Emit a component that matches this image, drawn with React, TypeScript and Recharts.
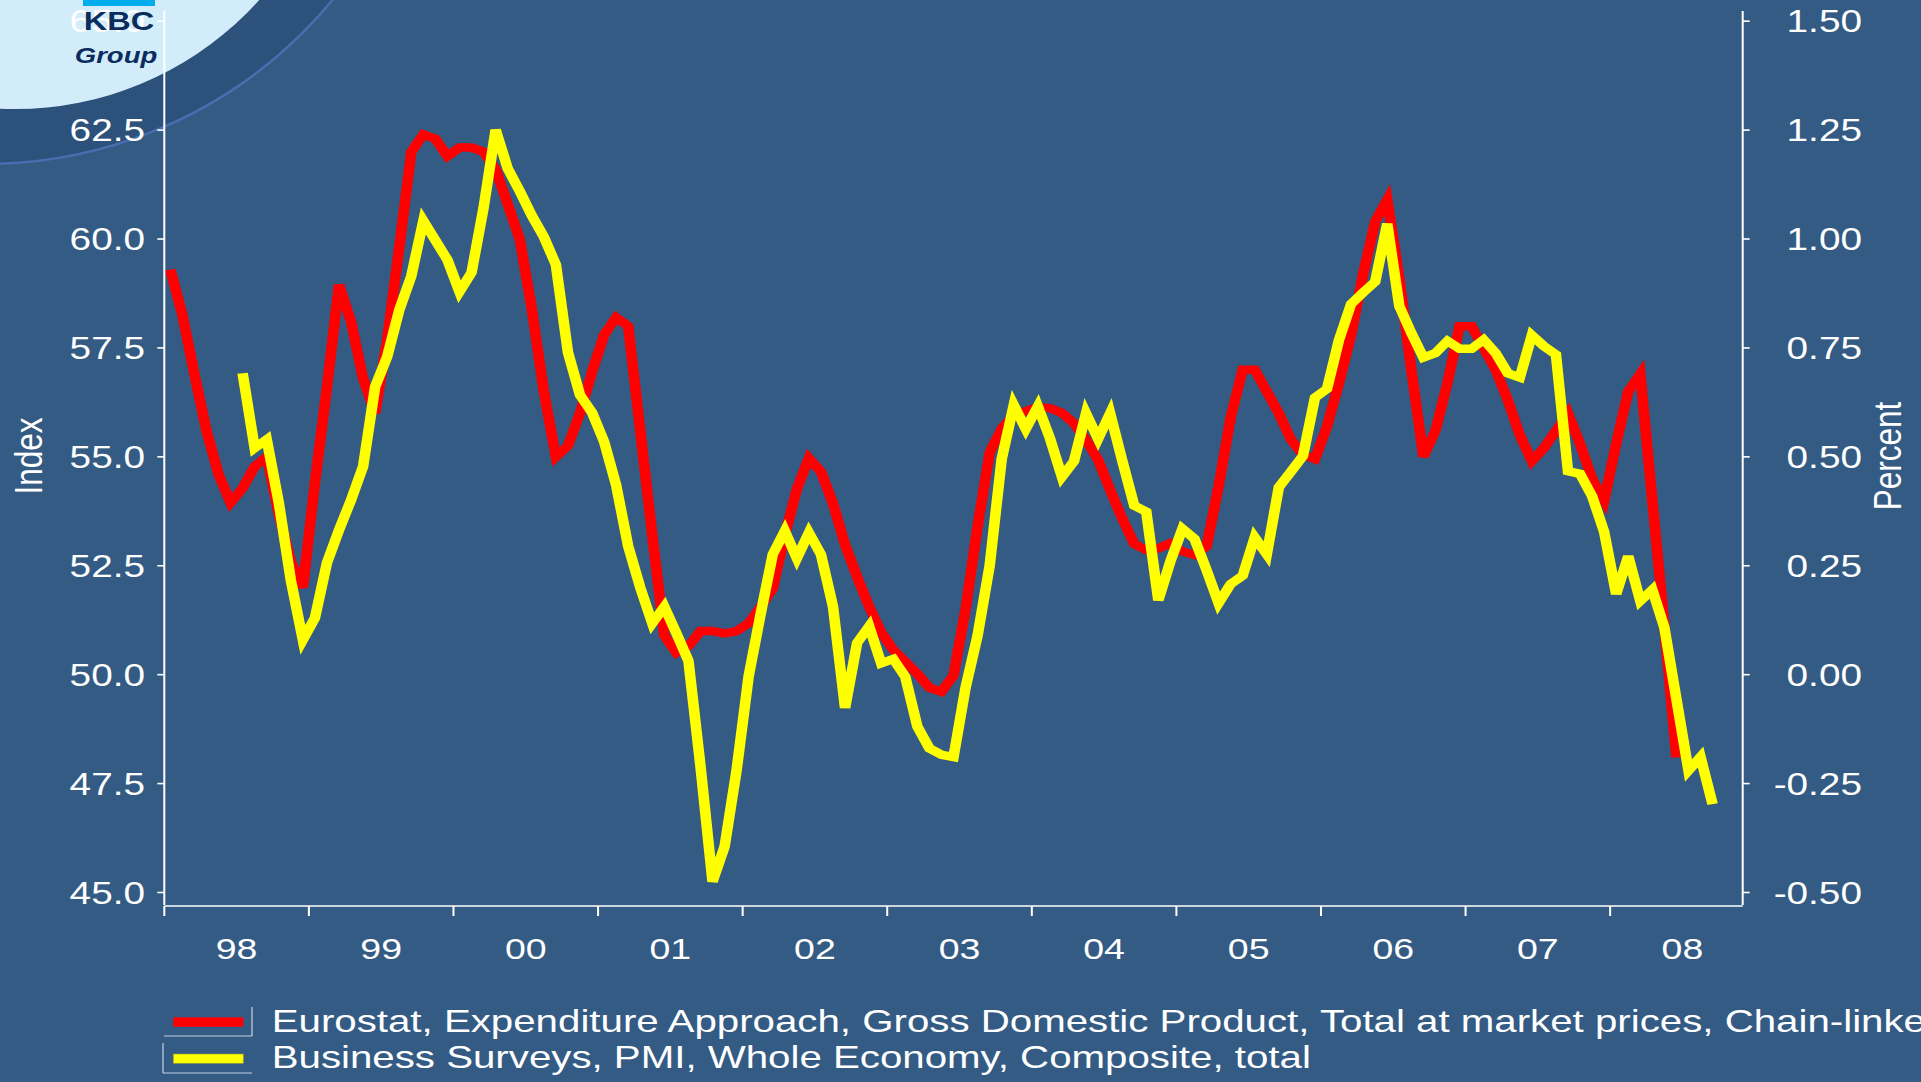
import React from 'react';
import { LineChart, Line, XAxis, YAxis } from 'recharts';

// ---------------- data ----------------
const yearLabels = ['98', '99', '00', '01', '02', '03', '04', '05', '06', '07', '08'];

// Euro area GDP growth (%), monthly points from Jan 1998
const gdpGrowthPct = [
  0.93, 0.826, 0.69, 0.56, 0.46, 0.395, 0.428, 0.478, 0.50, 0.37, 0.26, 0.20,
  0.44, 0.66, 0.895, 0.81, 0.68, 0.60, 0.77, 0.98, 1.20, 1.24, 1.23, 1.19,
  1.21, 1.21, 1.20, 1.16, 1.08, 1.00, 0.84, 0.65, 0.50, 0.525, 0.60, 0.695,
  0.78, 0.82, 0.80, 0.56, 0.32, 0.09, 0.05, 0.065, 0.10, 0.10, 0.095, 0.10,
  0.118, 0.156, 0.198, 0.32, 0.426, 0.497, 0.466, 0.393, 0.298, 0.225, 0.156, 0.097,
  0.057, 0.03, 0.002, -0.03, -0.039, -0.002, 0.15, 0.34, 0.51, 0.565, 0.595, 0.605,
  0.614, 0.612, 0.601, 0.577, 0.539, 0.493, 0.424, 0.359, 0.30, 0.286, 0.29, 0.302,
  0.283, 0.275, 0.294, 0.432, 0.59, 0.70, 0.70, 0.65, 0.60, 0.54, 0.505, 0.495,
  0.57, 0.67, 0.78, 0.92, 1.04, 1.09, 0.91, 0.70, 0.50, 0.56, 0.67, 0.80,
  0.80, 0.75, 0.70, 0.63, 0.55, 0.49, 0.52, 0.56, 0.60, 0.53, 0.45, 0.40,
  0.53, 0.65, 0.69, 0.40, 0.11, -0.19,
];

// PMI composite index, monthly points from Jul 1998
const pmiFirstMonth = 6;
const pmiComposite = [
  56.92, 55.2, 55.4, 53.95, 52.17, 50.8,
  51.3, 52.57, 53.32, 54.01, 54.78, 56.61, 57.3, 58.37, 59.15, 60.42, 59.97, 59.52,
  58.79, 59.23, 60.72, 62.51, 61.62, 61.10, 60.54, 60.05, 59.41, 57.40, 56.42, 56.02,
  55.35, 54.35, 52.95, 52.0, 51.18, 51.56, 50.95, 50.32, 47.9, 45.25, 46.05, 47.81,
  49.97, 51.4, 52.76, 53.3, 52.67, 53.26, 52.76, 51.56, 49.24, 50.73, 51.11, 50.26,
  50.36, 49.95, 48.81, 48.31, 48.16, 48.11, 49.7, 50.9, 52.5, 54.95, 56.19, 55.64,
  56.16, 55.43, 54.54, 54.9, 56.0, 55.41, 56.0, 54.92, 53.88, 53.74, 51.71, 52.6,
  53.35, 53.12, 52.4, 51.64, 52.08, 52.27, 53.15, 52.76, 54.3, 54.66, 55.02, 56.36,
  56.56, 57.69, 58.51, 58.77, 59.02, 60.35, 58.46, 57.84, 57.28, 57.38, 57.66, 57.48,
  57.48, 57.69, 57.38, 56.92, 56.82, 57.79, 57.54, 57.35, 54.67, 54.61, 54.10, 53.28,
  51.85, 52.72, 51.69, 51.95, 51.08, 49.44, 47.80, 48.11, 47.03,
];

const indexTicks = [45, 47.5, 50, 52.5, 55, 57.5, 60, 62.5, 65];
const percentTicks = [-0.5, -0.25, 0, 0.25, 0.5, 0.75, 1, 1.25, 1.5];
const legendNames = [
  'Eurostat, Expenditure Approach, Gross Domestic Product, Total at market prices, Chain-linked',
  'Business Surveys, PMI, Whole Economy, Composite, total',
];

// ---------------- chart table ----------------
const monthCount = Math.max(gdpGrowthPct.length, pmiFirstMonth + pmiComposite.length);
const chartData = Array.from({ length: monthCount }, (_, k) => ({
  month: k + 0.5,
  gdp: k < gdpGrowthPct.length ? gdpGrowthPct[k] : null,
  pmi:
    k >= pmiFirstMonth && k - pmiFirstMonth < pmiComposite.length
      ? pmiComposite[k - pmiFirstMonth]
      : null,
}));
const yearStartTicks = yearLabels.map((_, i) => i * 12);
const yearMidTicks = yearLabels.map((_, i) => i * 12 + 6);

// ---------------- layout / style ----------------
const W = 1921;
const H = 1082;
const S = 1.25; // horizontal stretch of the original picture
const CW = W / S;
const PLOT_LEFT = 164.3 / S;
const PLOT_RIGHT = 1742.7 / S;
const PLOT_TOP = 11;
const PLOT_BOTTOM = 905;
const TICK = 7 / S;

const BG = '#335b84';
const FONT = '"Liberation Sans", Arial, Helvetica, sans-serif';
const WHITE = '#ffffff';
const RED = '#ff0000';
const YELLOW = '#ffff00';
const NAVY = '#0a2d5e';

const EmptyTick = () => <g />;

const LeftTick = (props: any) => {
  const { x, y, payload } = props;
  return (
    <text x={x} y={y} dy="0.358em" textAnchor="end" fill={WHITE} fontSize={31} fontFamily={FONT}>
      {Number(payload.value).toFixed(1)}
    </text>
  );
};

const RightTick = (props: any) => {
  const { x, y, payload } = props;
  return (
    <text x={x} y={y} dy="0.358em" textAnchor="end" fill={WHITE} fontSize={31} fontFamily={FONT}>
      {Number(payload.value).toFixed(2)}
    </text>
  );
};

const YearTick = (props: any) => {
  const { x, payload } = props;
  const idx = Math.round((payload.value - 6) / 12);
  const cy = PLOT_BOTTOM + 43;
  return (
    <text x={x} y={cy} dy="0.358em" textAnchor="middle" fill={WHITE} fontSize={30} fontFamily={FONT}>
      {yearLabels[idx]}
    </text>
  );
};

const AxisTitle = (text: string, dxFromLeft: number) => (props: any) => {
  const vb = props.viewBox || {};
  const cx = (vb.x ?? 0) + dxFromLeft;
  const cy = 456;
  return (
    <text
      x={cx}
      y={cy}
      dy="0.358em"
      textAnchor="middle"
      fill={WHITE}
      fontSize={31.5}
      fontFamily={FONT}
      transform={`rotate(-90, ${cx}, ${cy})`}
    >
      {text}
    </text>
  );
};

export default function App() {
  const rightAxisWidth = CW - PLOT_RIGHT;
  return (
    <div
      style={{
        position: 'absolute',
        left: 0,
        top: 0,
        width: W,
        height: H,
        overflow: 'hidden',
        background: BG,
        fontFamily: FONT,
      }}
    >
      {/* background decoration (logo disc) */}
      <svg width={W} height={H} style={{ position: 'absolute', left: 0, top: 0 }}>
        <circle cx={-15} cy={-286} r={450} fill="#2c527b" stroke="#4a6db0" strokeWidth={2.5} />
        <circle cx={15} cy={-219} r={328} fill="#d3ecfa" />
      </svg>

      <div
        style={{
          position: 'absolute',
          left: 0,
          top: 0,
          width: CW,
          height: H,
          transform: `scaleX(${S})`,
          transformOrigin: '0 0',
        }}
      >
        <LineChart
          width={CW}
          height={H}
          data={chartData}
          margin={{ top: PLOT_TOP, right: 0, bottom: H - PLOT_BOTTOM - 2, left: 0 }}
        >
          <XAxis
            xAxisId="x"
            dataKey="month"
            type="number"
            domain={[0, 131]}
            allowDataOverflow
            ticks={yearStartTicks}
            interval={0}
            tick={<EmptyTick />}
            tickSize={10}
            height={1}
            axisLine={{ stroke: WHITE, strokeWidth: 1.6 }}
            tickLine={{ stroke: WHITE, strokeWidth: 1.6 }}
          />
          <XAxis
            xAxisId="labels"
            dataKey="month"
            type="number"
            domain={[0, 131]}
            allowDataOverflow
            ticks={yearMidTicks}
            interval={0}
            tick={<YearTick />}
            tickSize={0}
            height={1}
            axisLine={false}
            tickLine={false}
          />
          <YAxis
            yAxisId="left"
            orientation="left"
            type="number"
            domain={[44.713, 65.234]}
            allowDataOverflow
            ticks={indexTicks}
            interval={0}
            width={PLOT_LEFT}
            tickSize={TICK}
            tickMargin={PLOT_LEFT - TICK - 116}
            tick={<LeftTick />}
            axisLine={{ stroke: WHITE, strokeWidth: 1.6 }}
            tickLine={{ stroke: WHITE, strokeWidth: 1.6 }}
            label={{ content: AxisTitle('Index', 22.4) }}
          />
          <YAxis
            yAxisId="right"
            orientation="right"
            type="number"
            domain={[-0.5287, 1.5234]}
            allowDataOverflow
            ticks={percentTicks}
            interval={0}
            width={rightAxisWidth}
            tickSize={TICK}
            tickMargin={1862 / S - PLOT_RIGHT - TICK}
            tick={<RightTick />}
            axisLine={{ stroke: WHITE, strokeWidth: 1.6 }}
            tickLine={{ stroke: WHITE, strokeWidth: 1.6 }}
            label={{ content: AxisTitle('Percent', 1887 / S - PLOT_RIGHT) }}
          />
          <Line
            xAxisId="x"
            yAxisId="right"
            type="linear"
            dataKey="gdp"
            name={legendNames[0]}
            stroke={RED}
            strokeWidth={8.5}
            strokeLinejoin="miter"
            strokeLinecap="butt"
            dot={false}
            activeDot={false}
            isAnimationActive={false}
          />
          <Line
            xAxisId="x"
            yAxisId="left"
            type="linear"
            dataKey="pmi"
            name={legendNames[1]}
            stroke={YELLOW}
            strokeWidth={8.5}
            strokeLinejoin="miter"
            strokeLinecap="butt"
            dot={false}
            activeDot={false}
            isAnimationActive={false}
          />
        </LineChart>

        {/* logo + legend overlay */}
        <svg
          width={CW}
          height={H}
          style={{ position: 'absolute', left: 0, top: 0, pointerEvents: 'none' }}
        >
          <rect x={83 / S} y={0} width={72 / S} height={6} fill="#00aeef" />
          <text
            x={119 / S}
            y={30.5}
            textAnchor="middle"
            fontSize={26}
            fontWeight="bold"
            fill={NAVY}
            fontFamily={FONT}
          >
            KBC
          </text>
          <text
            x={116 / S}
            y={63.5}
            textAnchor="middle"
            fontSize={22}
            fontWeight="bold"
            fontStyle="italic"
            fill={NAVY}
            fontFamily={FONT}
          >
            Group
          </text>

          {/* legend */}
          <line x1={164 / S} y1={1036} x2={252 / S} y2={1036} stroke="#c4cddd" strokeWidth={1} />
          <line x1={252 / S} y1={1007} x2={252 / S} y2={1036} stroke="#c4cddd" strokeWidth={1} />
          <rect x={173.3 / S} y={1017.3} width={70 / S} height={9.5} fill={RED} />
          <text x={271.7 / S} y={1032.5} fill={WHITE} fontSize={32.2} fontFamily={FONT}>
            {legendNames[0]}
          </text>

          <line x1={163 / S} y1={1043} x2={163 / S} y2={1073} stroke="#c4cddd" strokeWidth={1} />
          <line x1={163 / S} y1={1073} x2={252 / S} y2={1073} stroke="#c4cddd" strokeWidth={1} />
          <rect
            x={173.3 / S}
            y={1054}
            width={70 / S}
            height={9.3}
            fill={YELLOW}
            stroke="#9a9a40"
            strokeWidth={0.6}
          />
          <text x={271.7 / S} y={1068.3} fill={WHITE} fontSize={32.2} fontFamily={FONT}>
            {legendNames[1]}
          </text>
        </svg>
      </div>
    </div>
  );
}
